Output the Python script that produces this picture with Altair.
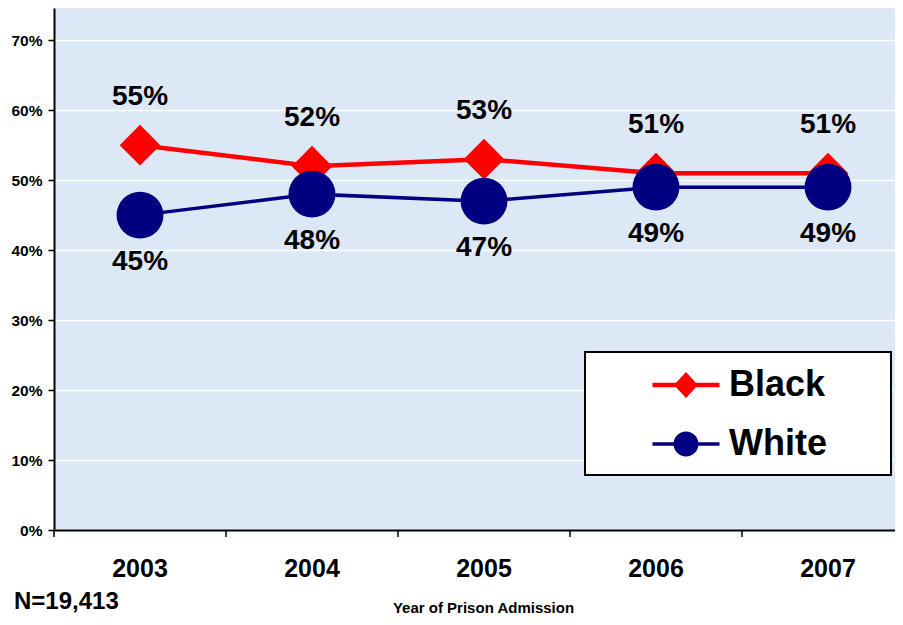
import altair as alt
import pandas as pd

years = ["2003", "2004", "2005", "2006", "2007"]
black = [55, 52, 53, 51, 51]
white = [45, 48, 47, 49, 49]
series = ["Black", "White"]
colors = ["#ff0000", "#000080"]
y_ticks = [0, 10, 20, 30, 40, 50, 60, 70]
note = "N=19,413"
x_title = "Year of Prison Admission"

rows = []
for yr, b, w in zip(years, black, white):
    rows.append({"year": yr, "series": "Black", "value": b, "label": f"{b}%"})
    rows.append({"year": yr, "series": "White", "value": w, "label": f"{w}%"})
df = pd.DataFrame(rows)

W, H = 841, 522
FONT = "Arial"

xscale = alt.Scale(domain=years, range=[0, 860], paddingInner=0, paddingOuter=0)
yscale = alt.Scale(domain=[0, 74.6], nice=False, zero=True)

x_axis = alt.Axis(title=x_title, ticks=False, labelAngle=0,
                  labelFont=FONT, labelFontSize=25, labelFontWeight="bold",
                  labelColor="black", labelPadding=26,
                  domainColor="black", domainWidth=2,
                  titleFont=FONT, titleFontSize=15, titleFontWeight="bold",
                  titleColor="black", titleX=429, titleY=77,
                  titleBaseline="middle", titleAnchor="middle", grid=False)
x_enc = alt.X("year:N", scale=xscale, sort=years, axis=x_axis)
y_enc = alt.Y("value:Q", scale=yscale,
              axis=alt.Axis(title=None, values=y_ticks, labelExpr="datum.value + '%'",
                            labelFont=FONT, labelFontSize=15.5, labelFontWeight="bold",
                            labelColor="black", labelPadding=6, tickSize=6,
                            tickColor="black", tickWidth=1.5,
                            domainColor="black", domainWidth=2,
                            grid=True, gridColor="white", gridWidth=1.5))

base = alt.Chart(df)

styles = {
    "Black": dict(color=colors[0], width=4.5, shape="diamond", size=1650, dy=-48),
    "White": dict(color=colors[1], width=3.5, shape="circle", size=2200, dy=47),
}

layers = []
for s in series:
    st = styles[s]
    sub = base.transform_filter(alt.datum.series == s)
    layers.append(sub.mark_line(color=st["color"], strokeWidth=st["width"]).encode(x=x_enc, y=y_enc))
for s in series:
    st = styles[s]
    sub = base.transform_filter(alt.datum.series == s)
    layers.append(sub.mark_point(shape=st["shape"], filled=True, size=st["size"],
                                 opacity=1, color=st["color"]).encode(x=x_enc, y=y_enc))
for s in series:
    st = styles[s]
    sub = base.transform_filter(alt.datum.series == s)
    layers.append(sub.mark_text(font=FONT, fontSize=28, fontWeight="bold", color="black",
                                dy=st["dy"], baseline="middle").encode(x=x_enc, y=y_enc, text="label:N"))

ticks = alt.Chart(pd.DataFrame({"year": years})).mark_rule(color="black", strokeWidth=1.5).encode(
    x=alt.X("year:N", scale=xscale, sort=years, bandPosition=0, axis=x_axis),
    y=alt.value(H), y2=alt.value(H + 7),
)
layers.append(ticks)

path_black = ("M-1.675,-0.11L1.675,-0.11L1.675,0.11L-1.675,0.11Z"
              "M-0.6,0L0,-0.65L0.6,0L0,0.65Z")
path_white = ("M-1.675,-0.09L1.675,-0.09L1.675,0.09L-1.675,0.09Z"
              "M-0.625,0A0.625,0.625,0,1,1,0.625,0A0.625,0.625,0,1,1,-0.625,0Z")

leg = alt.Legend(title=".", titleOrient="right", titleColor="white", titleFontSize=1,
                 titlePadding=50,
                 orient="none", legendX=531, legendY=344,
                 fillColor="white", strokeColor="black", padding=13,
                 symbolSize=1600, symbolStrokeWidth=0, symbolOffset=68,
                 labelOffset=23, rowPadding=21, labelLimit=400,
                 labelFont=FONT, labelFontSize=36, labelFontWeight="bold",
                 labelColor="black")

legend_layer = base.mark_point(filled=True, opacity=0).encode(
    x=x_enc, y=y_enc,
    fill=alt.Fill("series:N", scale=alt.Scale(domain=series, range=colors), legend=leg),
    shape=alt.Shape("series:N", scale=alt.Scale(domain=series, range=[path_black, path_white]), legend=leg),
)
layers.append(legend_layer)

note_layer = alt.Chart(pd.DataFrame({"t": [note]})).mark_text(
    font=FONT, fontSize=24, fontWeight="bold", color="black", align="left", baseline="middle"
).encode(text="t:N", x=alt.value(-40), y=alt.value(594))
layers.append(note_layer)

chart = alt.layer(*layers).properties(
    width=W, height=H,
    autosize=alt.AutoSizeParams(type="none"),
    padding={"left": 46, "top": 0, "right": 0, "bottom": 87},
    background="white",
).configure_view(fill="#dce8f5", stroke=None).configure_legend(strokeWidth=2, symbolOpacity=1)

chart.save("out.html", embed_options={"renderer": "svg", "actions": False})
